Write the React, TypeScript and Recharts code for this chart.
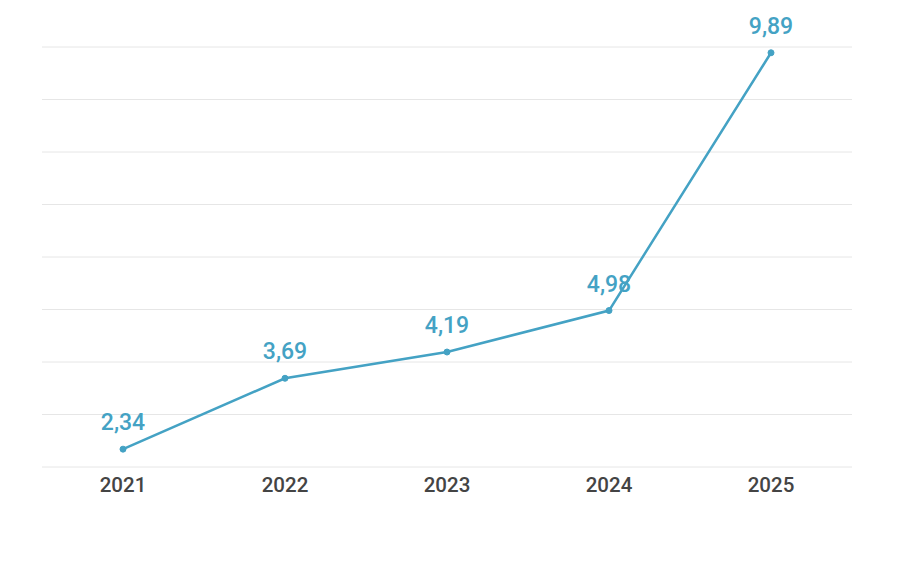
import { CartesianGrid, LabelList, Line, LineChart, XAxis, YAxis } from 'recharts'

const YEARS = ['2021', '2022', '2023', '2024', '2025']
const VALUES = [2.34, 3.69, 4.19, 4.98, 9.89]
const Y_TICKS = [2, 3, 4, 5, 6, 7, 8, 9, 10]

const LINE_COLOR = '#44a2c4'

const data = YEARS.map((year, i) => ({ year, value: VALUES[i] }))

const fmt = (v: number) => v.toFixed(2).replace('.', ',')

export default function App() {
  return (
    <div style={{ paddingTop: 9, fontFamily: 'Roboto, sans-serif' }}>
      <LineChart
        width={891}
        height={513}
        data={data}
        margin={{ top: 30, right: 47, bottom: 33, left: 34 }}
      >
        <CartesianGrid vertical={false} stroke="#e6e6e6" />
        <XAxis
          dataKey="year"
          axisLine={false}
          tickLine={false}
          tickMargin={4}
          padding={{ left: 81, right: 81 }}
          tick={{ fill: '#444444', fontSize: 20.5, fontWeight: 500, fontFamily: 'Roboto' }}
        />
        <YAxis hide domain={[2, 10]} ticks={Y_TICKS} />
        <Line
          type="linear"
          dataKey="value"
          stroke={LINE_COLOR}
          strokeWidth={2.5}
          dot={{ r: 3, fill: LINE_COLOR, stroke: LINE_COLOR, strokeWidth: 1 }}
          isAnimationActive={false}
        >
          <LabelList
            dataKey="value"
            position="top"
            offset={19}
            formatter={(v: number) => fmt(v)}
            style={{ fill: LINE_COLOR, fontSize: 23, fontWeight: 500, fontFamily: 'Roboto' }}
          />
        </Line>
      </LineChart>
    </div>
  )
}
